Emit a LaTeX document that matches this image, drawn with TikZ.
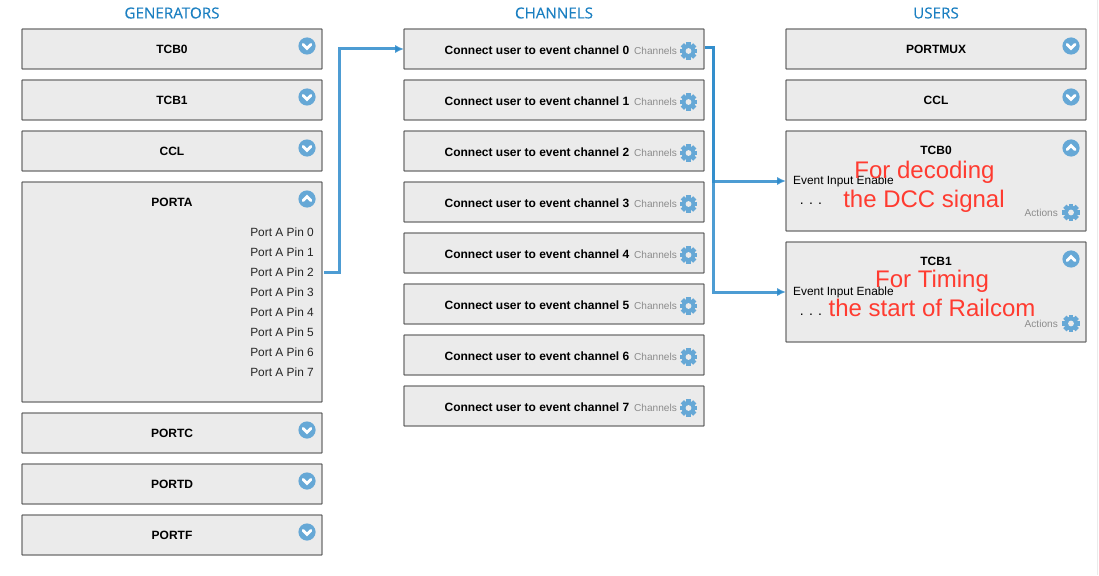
\documentclass[tikz,border=0pt]{standalone}
\usepackage{fontspec}
\setmainfont{Liberation Sans}
\newfontfamily\titlefont[FakeBold=0.25]{Open Sans}
\usetikzlibrary{arrows.meta}
\definecolor{boxfill}{HTML}{EBEBEB}
\definecolor{boxline}{HTML}{6E6E6E}
\definecolor{iconblue}{HTML}{66A8D6}
\definecolor{linkblue}{HTML}{2E8BCB}
\definecolor{titleblue}{HTML}{1B7FC1}
\definecolor{noteRed}{HTML}{FF3B30}
\tikzset{
  x=1pt,y=-1pt,
  panel/.style={draw=boxline,line width=1.3pt,fill=boxfill,rounded corners=0.6pt,minimum width=300pt,inner sep=0pt,anchor=north west,outer sep=0pt},
  short/.style={panel,minimum height=40pt},
  coltitle/.style={font=\titlefont\fontsize{15.2}{17}\selectfont,text=titleblue,inner sep=0pt},
  head/.style={font=\bfseries\fontsize{12}{14}\selectfont,text=black,inner sep=0pt},
  item/.style={font=\fontsize{11.9}{14}\selectfont,text=black!85,inner sep=0pt},
  grey/.style={font=\fontsize{10.1}{12}\selectfont,text=black!45,inner sep=0pt},
  note/.style={font=\fontsize{24}{28}\selectfont,text=noteRed,inner sep=0pt},
  link/.style={draw=linkblue,draw opacity=.85,line width=3pt,-{Latex[length=9pt,width=8.5pt,fill=linkblue]}},
  cog/.pic={
    \fill[iconblue] (0,0) circle[radius=6.8];
    \foreach \a in {0,45,...,315}{
      \fill[iconblue,rotate=\a] (-2.3,-8.8) rectangle (2.3,0);
    }
    \fill[boxfill] (0,0) circle[radius=2.9];
  },
  chevdown/.pic={
    \fill[iconblue] (0,0) circle[radius=8.6];
    \draw[white,line width=2.8pt,line cap=round] (-4,-1.6) -- (0,2.4) -- (4,-1.6);
  },
  chevup/.pic={
    \fill[iconblue] (0,0) circle[radius=8.6];
    \draw[white,line width=2.8pt,line cap=round] (-4,1.6) -- (0,-2.4) -- (4,1.6);
  },
}
\begin{document}
\begin{tikzpicture}
\useasboundingbox (0,0) rectangle (1099,575);
\draw[black!8,line width=1pt] (1097,0) -- (1097,575);

\node[coltitle] (tgen) at (172,13) {GENERATORS};
\node[coltitle] (tchan) at (554,13) {CHANNELS};
\node[coltitle] (tuser) at (936,13) {USERS};

% generators
\foreach \n/\t/\y in {g0/TCB0/29,g1/TCB1/80,g2/CCL/131,g4/PORTC/413,g5/PORTD/464,g6/PORTF/515}{
  \node[short] (\n-b) at (22,\y) {};
  \node[head] (\n-t) at (172,\y+20.5) {\t};
  \pic at (307,\y+17) {chevdown};
}
\node[panel,minimum height=220pt] (porta) at (22,182) {};
\node[head] (portat) at (172,202) {PORTA};
\pic at (307,199) {chevup};
\foreach \i in {0,...,7}{
  \node[item,anchor=east] (pin\i) at (314,232+20*\i) {Port A Pin \i};
}

% channels
\foreach \i in {0,...,7}{
  \pgfmathtruncatemacro{\yy}{29+51*\i}
  \node[short] (ch\i) at (404,\yy) {};
  \node[head,anchor=east] (ch\i-t) at (629.5,\yy+20.8) {Connect user to event channel \i};
  \node[grey,anchor=east] (ch\i-c) at (677,\yy+22) {Channels};
  \pic at (688.5,\yy+22) {cog};
}

% users
\node[short] (uport) at (786,29) {};
\node[head] (uportt) at (936,49) {PORTMUX};
\pic at (1071,46) {chevdown};
\node[short] (uccl) at (786,80) {};
\node[head] (ucclt) at (936,100) {CCL};
\pic at (1071,97) {chevdown};

\foreach \n/\t/\y in {ua/TCB0/131,ub/TCB1/242}{
  \node[panel,minimum height=100pt] (\n) at (786,\y) {};
  \node[head] (\n-t) at (936,\y+19.5) {\t};
  \pic at (1071,\y+17) {chevup};
  \node[item,anchor=west,text=black] (\n-e) at (793,\y+50) {Event Input Enable};
  \node[font=\fontsize{14}{16}\selectfont,inner sep=0pt,text=black] (\n-d) at (811,\y+73) {. . .};
  \node[grey,anchor=east] (\n-a) at (1058,\y+81.5) {Actions};
  \pic at (1071,\y+81.5) {cog};
}
\node[note] (n1) at (924.5,172) {For decoding};
\node[note] (n2) at (924,201) {the DCC signal};
\node[note] (n3) at (932,281.5) {For Timing};
\node[note] (n4) at (932,308) {the start of Railcom};

% connectors
\coordinate (src) at (324,272);
\coordinate (bend) at (339,272);
\draw[link] (src) -- (bend) |- (ch0.west);
\coordinate (csrc) at (705,48);
\coordinate (cbend) at (713,48);
\draw[link] (csrc) -- (cbend) |- (ua.west |- ua-e);
\draw[link] (csrc) -- (cbend) |- (ub.west |- ub-e);
\end{tikzpicture}
\end{document}
